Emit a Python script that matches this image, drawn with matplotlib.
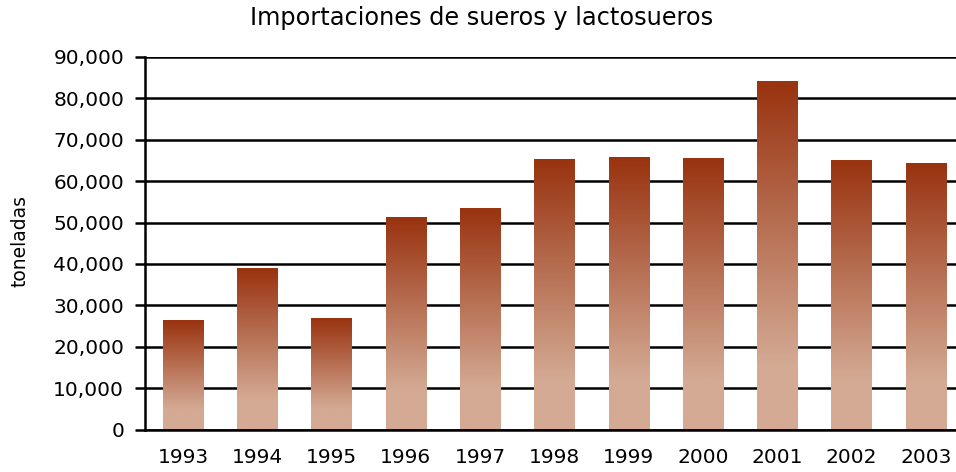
import numpy as np
import matplotlib
matplotlib.use("Agg")
import matplotlib.pyplot as plt
from matplotlib.ticker import FuncFormatter, MultipleLocator
from matplotlib.colors import LinearSegmentedColormap

years = ["1993", "1994", "1995", "1996", "1997", "1998", "1999", "2000", "2001", "2002", "2003"]
values = [26200, 38800, 26700, 51100, 53300, 65100, 65600, 65300, 84000, 64900, 64100]

title = "Importaciones de sueros y lactosueros"
ylabel = "toneladas"

top_color = "#993310"
bottom_color = "#D4AA94"

W, H = 956, 472
fig = plt.figure(figsize=(W / 100, H / 100), dpi=100)
ax_left, ax_right = 145 / W, 963 / W
ax_bottom, ax_top = (H - 429.5) / H, (H - 57) / H
ax = fig.add_axes([ax_left, ax_bottom, ax_right - ax_left, ax_top - ax_bottom])

x = np.arange(len(years))
bar_w = 0.54

cmap = LinearSegmentedColormap.from_list("grad", [top_color, bottom_color])
grad = np.clip(np.linspace(0, 1, 256) / 0.82, 0, 1).reshape(-1, 1)

ax.yaxis.set_major_locator(MultipleLocator(10000))
ax.grid(axis="y", color="black", linewidth=1.8, zorder=1)
ax.set_axisbelow(True)

for xi, v in zip(x, values):
    ax.imshow(grad, cmap=cmap, vmin=0, vmax=1, aspect="auto",
              extent=(xi - bar_w / 2, xi + bar_w / 2, 0, v), origin="upper",
              zorder=2, interpolation="bilinear")

ax.set_xlim(-0.51, len(years) - 0.5)
ax.set_ylim(0, 90000)
ax.set_xticks(x)
ax.set_xticklabels(years)
ax.yaxis.set_major_formatter(FuncFormatter(lambda v, p: f"{int(v):,}"))

for s in ["top", "right"]:
    ax.spines[s].set_visible(False)
ax.spines["left"].set_linewidth(1.8)
ax.spines["bottom"].set_linewidth(1.8)
ax.spines["left"].set_zorder(3)
ax.spines["bottom"].set_zorder(3)

ax.tick_params(axis="x", length=0, pad=13, labelsize=14.5, colors="black")
ax.tick_params(axis="y", length=7, width=1.8, pad=8, labelsize=14.5, colors="black")

fig.text(20 / W, 1 - 241 / H, ylabel, rotation=90, ha="center", va="center", fontsize=13.5)
fig.text(482 / W, 1 - 18 / H, title, ha="center", va="center", fontsize=17.3)

fig.savefig("out.png", dpi=100)
